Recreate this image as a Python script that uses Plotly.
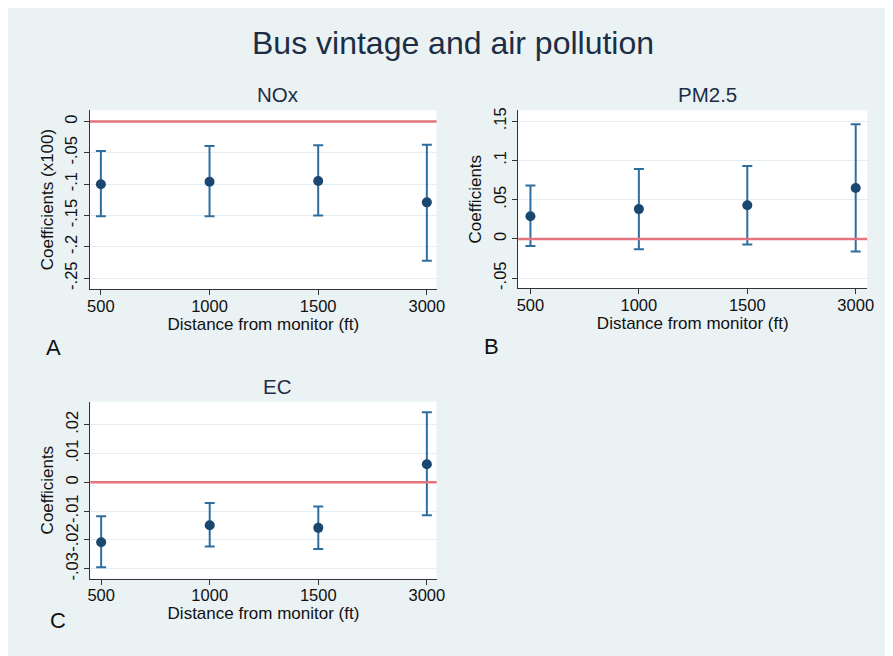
import plotly.graph_objects as go

# ---- data ----
distances = ["500", "1000", "1500", "3000"]

nox_coef = [-0.100, -0.096, -0.095, -0.129]
nox_lo = [-0.151, -0.151, -0.150, -0.222]
nox_hi = [-0.047, -0.039, -0.038, -0.037]

pm_coef = [0.029, 0.038, 0.043, 0.065]
pm_lo = [-0.009, -0.013, -0.007, -0.016]
pm_hi = [0.068, 0.089, 0.093, 0.146]

ec_coef = [-0.0208, -0.0149, -0.0158, 0.0063]
ec_lo = [-0.0295, -0.0223, -0.0231, -0.0114]
ec_hi = [-0.0118, -0.0072, -0.0084, 0.0243]

nox_ticks = [0, -0.05, -0.1, -0.15, -0.2, -0.25]
nox_ticktext = ["0", "-.05", "-.1", "-.15", "-.2", "-.25"]
pm_ticks = [-0.05, 0, 0.05, 0.1, 0.15]
pm_ticktext = ["-.05", "0", ".05", ".1", ".15"]
ec_ticks = [-0.03, -0.02, -0.01, 0, 0.01, 0.02]
ec_ticktext = ["-.03", "-.02", "-.01", "0", ".01", ".02"]

# page body has an 8px margin; figure coordinates are measured from the window
OX, OY = 8, 8
W, H = 883, 648
FONT = "Liberation Sans, Arial, Helvetica, sans-serif"
BG = "#eaf2f4"
MARK = "#1a476f"
BAR = "#2e6e9e"
RED = "#e6747e"
GRID = "#e4edf1"
TXT = "#111111"
TTL = "#1c2d45"

fig = go.Figure()

panels = [
    ("x", "y", nox_coef, nox_lo, nox_hi),
    ("x2", "y2", pm_coef, pm_lo, pm_hi),
    ("x3", "y3", ec_coef, ec_lo, ec_hi),
]
for xa, ya, c, lo, hi in panels:
    fig.add_trace(go.Scatter(
        x=distances, y=c, xaxis=xa, yaxis=ya, mode="markers",
        marker=dict(color=MARK, size=10),
        error_y=dict(type="data", symmetric=False,
                     array=[h - v for h, v in zip(hi, c)],
                     arrayminus=[v - l for v, l in zip(c, lo)],
                     color=BAR, thickness=2, width=5),
        showlegend=False, hoverinfo="skip"))

def fx(p):
    return (p - OX) / W

def fy(p):
    return 1 - (p - OY) / H

def px_x(a, b):
    return [fx(a), fx(b)]

def px_y(top, bottom):
    return [fy(bottom), fy(top)]

xcommon = dict(type="category", showgrid=False, showline=True, linecolor="#333333",
               linewidth=1, ticks="outside", ticklen=5, tickcolor="#333333",
               ticklabelstandoff=-3,
               tickfont=dict(size=16.5, color=TXT, family=FONT), zeroline=False,
               title=dict(text="Distance from monitor (ft)",
                          font=dict(size=17, color=TXT, family=FONT), standoff=2))
ycommon = dict(showgrid=True, gridcolor=GRID, gridwidth=1, showline=True,
               linecolor="#333333", linewidth=1, ticks="outside", ticklen=5,
               tickcolor="#333333", tickangle=-90, zeroline=False,
               tickfont=dict(size=16.5, color=TXT, family=FONT))

fig.update_layout(
    xaxis=dict(xcommon, domain=px_x(88, 439), range=[-0.1, 3.09], anchor="y"),
    yaxis=dict(ycommon, domain=px_y(108, 288), range=[-0.267, 0.018], anchor="x",
               tickvals=nox_ticks, ticktext=nox_ticktext,
               title=dict(text="Coefficients (x100)", font=dict(size=17, color=TXT, family=FONT), standoff=4)),
    xaxis2=dict(xcommon, domain=px_x(521.7, 875), range=[-0.112, 3.106], anchor="y2"),
    yaxis2=dict(ycommon, domain=px_y(108, 287.3), range=[-0.0627, 0.164], anchor="x2",
                tickvals=pm_ticks, ticktext=pm_ticktext,
                title=dict(text="Coefficients", font=dict(size=17, color=TXT, family=FONT), standoff=4)),
    xaxis3=dict(xcommon, domain=px_x(88.3, 439), range=[-0.1, 3.09], anchor="y3"),
    yaxis3=dict(ycommon, domain=px_y(401.7, 580), range=[-0.0334, 0.028], anchor="x3",
                tickvals=ec_ticks, ticktext=ec_ticktext,
                title=dict(text="Coefficients", font=dict(size=17, color=TXT, family=FONT), standoff=4)),
)

# zero reference lines
for xr, yr in [("x", "y"), ("x2", "y2"), ("x3", "y3")]:
    fig.add_shape(type="line", xref=xr + " domain", yref=yr, x0=0, x1=1, y0=0, y1=0,
                  line=dict(color=RED, width=2.5), layer="above")

ann = [
    dict(text="Bus vintage and air pollution", x=456, y=40, size=32, color=TTL, xanchor="center"),
    dict(text="NOx", x=278, y=92, size=20.5, color=TTL, xanchor="center"),
    dict(text="PM2.5", x=713, y=92, size=20.5, color=TTL, xanchor="center"),
    dict(text="EC", x=278, y=386, size=20.5, color=TTL, xanchor="center"),
    dict(text="A", x=41, y=347, size=22, color=TXT, xanchor="left"),
    dict(text="B", x=485, y=346, size=22, color=TXT, xanchor="left"),
    dict(text="C", x=45, y=622, size=22, color=TXT, xanchor="left"),
]
for a in ann:
    fig.add_annotation(text=a["text"], x=fx(a["x"]), y=fy(a["y"]), xref="paper", yref="paper",
                       xanchor=a["xanchor"], yanchor="middle", showarrow=False,
                       font=dict(size=a["size"], color=a["color"], family=FONT))

fig.update_layout(
    width=W, height=H, margin=dict(l=0, r=0, t=0, b=0),
    paper_bgcolor=BG, plot_bgcolor="white",
    font=dict(family=FONT, color=TXT),
)

fig.write_html("out.html")
